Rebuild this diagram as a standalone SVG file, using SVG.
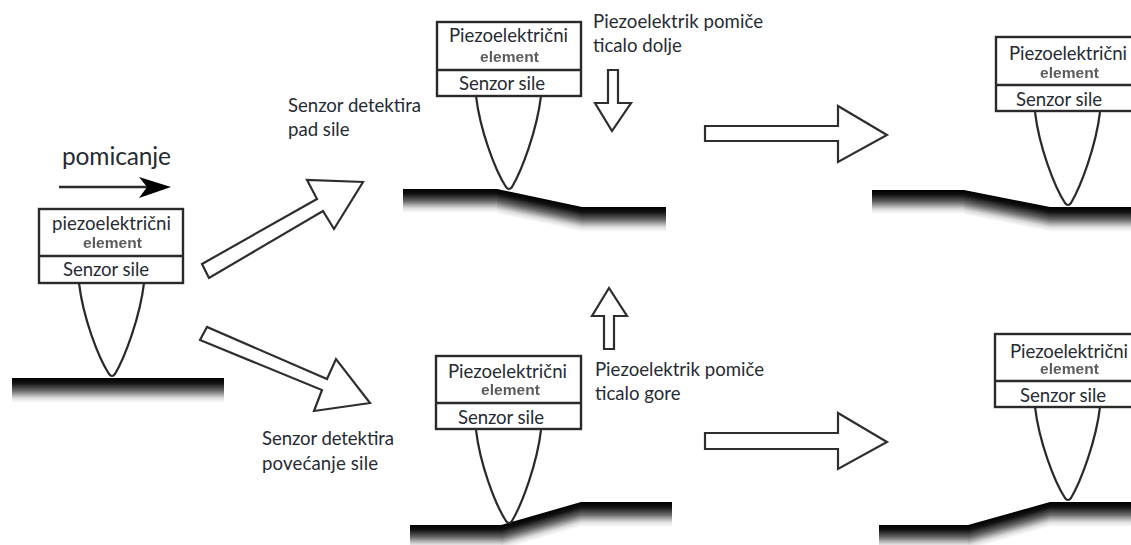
<svg xmlns="http://www.w3.org/2000/svg" width="1131" height="545" viewBox="0 0 1131 545">
<style>
.box{fill:#fff;stroke:#2a2a2a;stroke-width:2.4}
.tip{fill:none;stroke:#2a2a2a;stroke-width:2.2}
.block{fill:#fff;stroke:#2e2e2e;stroke-width:2.2;stroke-linejoin:miter}
.g{fill:url(#fade)}
.t{font-family:Lato,"Noto Sans",sans-serif;font-size:18.6px;fill:#262b33}
.e{font-family:"Liberation Sans",Arial,sans-serif;font-size:15.5px;font-weight:bold;fill:#5c5c5c;filter:url(#soft)}
</style>
<defs>
<linearGradient id="fade" x1="0" y1="0" x2="0" y2="1">
<stop offset="0" stop-color="#000"/>
<stop offset="0.2" stop-color="#111"/>
<stop offset="0.5" stop-color="#666"/>
<stop offset="0.8" stop-color="#ddd"/>
<stop offset="1" stop-color="#fff"/>
</linearGradient>
<filter id="soft" x="-10%" y="-20%" width="120%" height="140%"><feGaussianBlur stdDeviation="0.4"/></filter>
<path id="probe" class="tip" d="M0 0C4 34 19 74 30 91Q33 95 36 91C46 74 61 34 65 0"/>
</defs>
<rect width="1131" height="545" fill="#fff"/>

<g id="connectors">
<path class="block" d="M202 264L209 278L323 211L334 229L363 182L307 180L317 199Z"/>
<path class="block" d="M207 327L200 340L322 390L314 411L370 403L336 359L327 379Z"/>
<path class="block" d="M705 126H838V106L887 135L838 162V141H705Z"/>
<path class="block" d="M705 433H838V413L887 442L838 469V449H705Z"/>
<path class="block" d="M608 70H618V103H631L612 131L595 103H608Z"/>
<path class="block" d="M604 349V316H592L609 288L627 316H614V349Z"/>
<g id="motion">
<line x1="59" y1="187" x2="150" y2="187" stroke="#2a2a2a" stroke-width="2.6"/>
<path d="M171 187L139 177L147 187L139 198Z" fill="#000"/>
</g>
</g>

<text class="t" x="62" y="165" style="font-size:24.5px" textLength="109">pomicanje</text>
<text class="t" x="288" y="112" textLength="133">Senzor detektira</text>
<text class="t" x="288" y="136">pad sile</text>
<text class="t" x="262" y="445" textLength="132">Senzor detektira</text>
<text class="t" x="262" y="470" textLength="116">povećanje sile</text>
<text class="t" x="593" y="28" textLength="170">Piezoelektrik pomiče</text>
<text class="t" x="593" y="52">ticalo dolje</text>
<text class="t" x="595" y="376" textLength="169">Piezoelektrik pomiče</text>
<text class="t" x="595" y="400">ticalo gore</text>

<g id="node-start">
<rect class="g" x="12" y="378" width="212" height="25"/>
<use href="#probe" x="79" y="283"/>
<rect class="box" x="39" y="209" width="144" height="74"/>
<line class="box" x1="39" y1="256" x2="183" y2="256"/>
<text class="t" x="52" y="230" textLength="119">piezoelektrični</text>
<text class="e" x="83" y="248" textLength="59">element</text>
<text class="t" x="63" y="276" textLength="86">Senzor sile</text>
</g>

<g id="node-top-middle">
<rect class="g" x="403" y="189" width="94" height="24"/>
<rect class="g" x="0" y="0" width="85" height="25" transform="matrix(1 .212 0 1 497 189)"/>
<rect class="g" x="582" y="207" width="84" height="25"/>
<use href="#probe" x="476" y="96"/>
<rect class="box" x="437" y="22" width="144" height="74"/>
<line class="box" x1="437" y1="70" x2="581" y2="70"/>
<text class="t" x="449" y="42" textLength="119">Piezoelektrični</text>
<text class="e" x="480" y="62" textLength="59">element</text>
<text class="t" x="459" y="90" textLength="86">Senzor sile</text>
</g>

<g id="node-bottom-middle">
<rect class="g" x="410" y="525" width="91" height="24"/>
<rect class="g" x="0" y="0" width="80" height="25" transform="matrix(1 -.2875 0 1 501 525)"/>
<rect class="g" x="581" y="502" width="91" height="25"/>
<use href="#probe" x="476" y="430"/>
<rect class="box" x="436" y="356" width="145" height="73"/>
<line class="box" x1="436" y1="403" x2="581" y2="403"/>
<text class="t" x="448" y="378" textLength="119">Piezoelektrični</text>
<text class="e" x="481" y="395" textLength="59">element</text>
<text class="t" x="458" y="424" textLength="86">Senzor sile</text>
</g>

<g id="node-top-right">
<rect class="g" x="872" y="190" width="92" height="24"/>
<rect class="g" x="0" y="0" width="86" height="25" transform="matrix(1 .198 0 1 964 190)"/>
<rect class="g" x="1050" y="207" width="81" height="25"/>
<use href="#probe" x="1035" y="112"/>
<rect class="box" x="996" y="37" width="145" height="74"/>
<line class="box" x1="996" y1="85" x2="1141" y2="85"/>
<text class="t" x="1009" y="60" textLength="118">Piezoelektrični</text>
<text class="e" x="1040" y="78" textLength="59">element</text>
<text class="t" x="1016" y="106" textLength="86">Senzor sile</text>
</g>

<g id="node-bottom-right">
<rect class="g" x="879" y="525" width="89" height="24"/>
<rect class="g" x="0" y="0" width="82" height="25" transform="matrix(1 -.28 0 1 968 525)"/>
<rect class="g" x="1050" y="502" width="81" height="25"/>
<use href="#probe" x="1035" y="407"/>
<rect class="box" x="995" y="334" width="146" height="73"/>
<line class="box" x1="995" y1="381" x2="1141" y2="381"/>
<text class="t" x="1010" y="358" textLength="118">Piezoelektrični</text>
<text class="e" x="1040" y="374" textLength="59">element</text>
<text class="t" x="1020" y="402" textLength="86">Senzor sile</text>
</g>
</svg>
